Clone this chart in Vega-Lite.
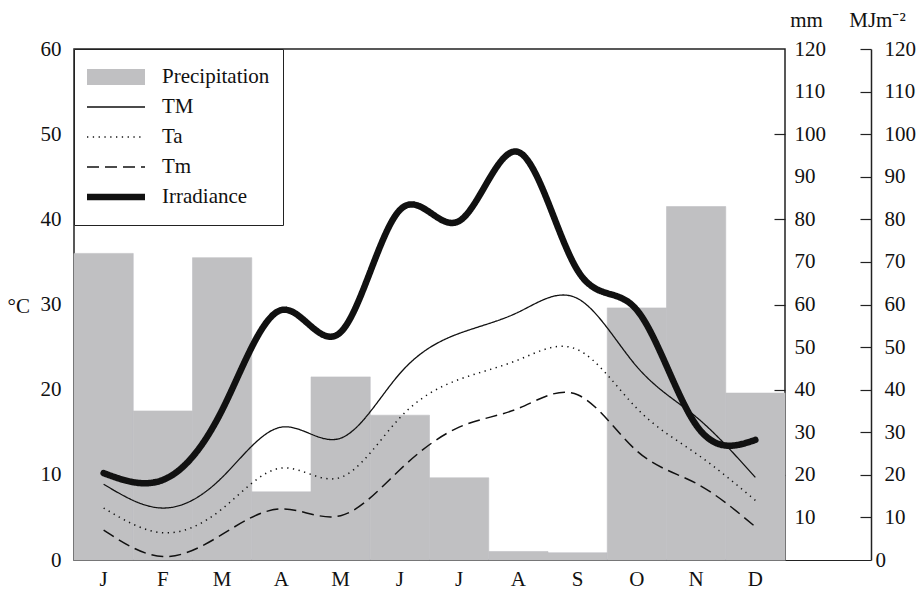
{
  "$schema": "https://vega.github.io/schema/vega-lite/v6.json",
  "width": 711,
  "height": 511,
  "autosize": "none",
  "padding": {"left": 74, "top": 49, "right": 133, "bottom": 29},
  "background": "white",
  "config": {
    "view": {"stroke": "#222", "strokeWidth": 1.5},
    "font": "Liberation Serif",
    "axis": {
      "labelFont": "Liberation Serif",
      "labelFontSize": 21,
      "labelColor": "#111",
      "titleFont": "Liberation Serif",
      "titleFontSize": 21,
      "titleFontWeight": "normal",
      "titleColor": "#111",
      "grid": false,
      "domainColor": "#222",
      "tickColor": "#222",
      "labelFlush": false,
      "labelOverlap": false
    },
    "legend": {
      "title": null,
      "orient": "top-left",
      "offset": 0,
      "symbolType": "stroke",
      "symbolSize": 3364,
      "labelFont": "Liberation Serif",
      "labelFontSize": 21,
      "labelColor": "#111",
      "strokeColor": "#222",
      "fillColor": "white",
      "padding": 13,
      "rowPadding": 0,
      "clipHeight": 30,
      "symbolOffset": -8,
      "labelOffset": 9,
      "labelExpr": "datum.label === 'Precipitation' ? 'Precipitation\u00a0\u00a0\u00a0\u00a0' : datum.label"
    }
  },
  "data": {
    "values": [
      {"month": "Jan", "series": "Precipitation", "value": 72},
      {"month": "Feb", "series": "Precipitation", "value": 35},
      {"month": "Mar", "series": "Precipitation", "value": 71},
      {"month": "Apr", "series": "Precipitation", "value": 16},
      {"month": "May", "series": "Precipitation", "value": 43},
      {"month": "Jun", "series": "Precipitation", "value": 34},
      {"month": "Jul", "series": "Precipitation", "value": 19.3},
      {"month": "Aug", "series": "Precipitation", "value": 2},
      {"month": "Sep", "series": "Precipitation", "value": 1.7},
      {"month": "Oct", "series": "Precipitation", "value": 59.2},
      {"month": "Nov", "series": "Precipitation", "value": 83},
      {"month": "Dec", "series": "Precipitation", "value": 39.2},

      {"month": "Jan", "series": "TM", "value": 8.9},
      {"month": "Feb", "series": "TM", "value": 6.1},
      {"month": "Mar", "series": "TM", "value": 9.7},
      {"month": "Apr", "series": "TM", "value": 15.6},
      {"month": "May", "series": "TM", "value": 14.3},
      {"month": "Jun", "series": "TM", "value": 21.9},
      {"month": "Jul", "series": "TM", "value": 26.6},
      {"month": "Aug", "series": "TM", "value": 29.1},
      {"month": "Sep", "series": "TM", "value": 30.7},
      {"month": "Oct", "series": "TM", "value": 22.7},
      {"month": "Nov", "series": "TM", "value": 16.8},
      {"month": "Dec", "series": "TM", "value": 9.7},

      {"month": "Jan", "series": "Ta", "value": 6.1},
      {"month": "Feb", "series": "Ta", "value": 3.2},
      {"month": "Mar", "series": "Ta", "value": 6.0},
      {"month": "Apr", "series": "Ta", "value": 10.8},
      {"month": "May", "series": "Ta", "value": 9.7},
      {"month": "Jun", "series": "Ta", "value": 16.7},
      {"month": "Jul", "series": "Ta", "value": 21.2},
      {"month": "Aug", "series": "Ta", "value": 23.5},
      {"month": "Sep", "series": "Ta", "value": 24.7},
      {"month": "Oct", "series": "Ta", "value": 17.8},
      {"month": "Nov", "series": "Ta", "value": 12.5},
      {"month": "Dec", "series": "Ta", "value": 7.0},

      {"month": "Jan", "series": "Tm", "value": 3.5},
      {"month": "Feb", "series": "Tm", "value": 0.4},
      {"month": "Mar", "series": "Tm", "value": 3.0},
      {"month": "Apr", "series": "Tm", "value": 6.0},
      {"month": "May", "series": "Tm", "value": 5.2},
      {"month": "Jun", "series": "Tm", "value": 10.6},
      {"month": "Jul", "series": "Tm", "value": 15.6},
      {"month": "Aug", "series": "Tm", "value": 17.8},
      {"month": "Sep", "series": "Tm", "value": 19.4},
      {"month": "Oct", "series": "Tm", "value": 12.8},
      {"month": "Nov", "series": "Tm", "value": 9.0},
      {"month": "Dec", "series": "Tm", "value": 3.9},

      {"month": "Jan", "series": "Irradiance", "value": 20.4},
      {"month": "Feb", "series": "Irradiance", "value": 18.8},
      {"month": "Mar", "series": "Irradiance", "value": 35.2},
      {"month": "Apr", "series": "Irradiance", "value": 58.7},
      {"month": "May", "series": "Irradiance", "value": 53.5},
      {"month": "Jun", "series": "Irradiance", "value": 82.2},
      {"month": "Jul", "series": "Irradiance", "value": 79.6},
      {"month": "Aug", "series": "Irradiance", "value": 95.8},
      {"month": "Sep", "series": "Irradiance", "value": 68},
      {"month": "Oct", "series": "Irradiance", "value": 58.7},
      {"month": "Nov", "series": "Irradiance", "value": 31.7},
      {"month": "Dec", "series": "Irradiance", "value": 28.2}
    ]
  },
  "encoding": {
    "x": {
      "field": "month",
      "type": "ordinal",
      "sort": ["Jan", "Feb", "Mar", "Apr", "May", "Jun", "Jul", "Aug", "Sep", "Oct", "Nov", "Dec"],
      "scale": {"paddingInner": 0, "paddingOuter": 0},
      "axis": {
        "title": null,
        "labelAngle": 0,
        "labelExpr": "substring(datum.label, 0, 1)",
        "ticks": false,
        "domain": false,
        "labelPadding": 8
      }
    }
  },
  "layer": [
    {
      "transform": [{"filter": "datum.series === 'Precipitation'"}],
      "mark": {"type": "bar", "stroke": "#c0c0c2", "strokeWidth": 0.6},
      "encoding": {
        "y": {
          "field": "value",
          "type": "quantitative",
          "scale": {"domain": [0, 120], "nice": false},
          "axis": {
            "orient": "right",
            "values": [10, 20, 30, 40, 50, 60, 70, 80, 90, 100, 110, 120],
            "title": "mm",
            "titleAngle": 0,
            "titleX": 21,
            "titleY": -29,
            "titleAlign": "center",
            "titleBaseline": "middle",
            "domain": false,
            "tickSize": -11,
            "tickWidth": 1.2,
            "tickOpacity": {"condition": {"test": "datum.value % 20 === 0 && datum.value < 120", "value": 1}, "value": 0},
            "labelPadding": 20
          }
        },
        "color": {
          "field": "series",
          "type": "nominal",
          "scale": {
            "domain": ["Precipitation", "TM", "Ta", "Tm", "Irradiance"],
            "range": ["#c0c0c2", "#111111", "#111111", "#111111", "#111111"]
          }
        }
      }
    },
    {
      "transform": [{"filter": "indexof(['TM', 'Ta', 'Tm'], datum.series) >= 0"}],
      "mark": {"type": "line", "interpolate": "natural"},
      "encoding": {
        "y": {
          "field": "value",
          "type": "quantitative",
          "scale": {"domain": [0, 60], "nice": false},
          "axis": {
            "orient": "left",
            "values": [0, 10, 20, 30, 40, 50, 60],
            "title": "°C",
            "titleAngle": 0,
            "titleX": -67,
            "titleY": 257,
            "titleAlign": "left",
            "titleBaseline": "middle",
            "domain": false,
            "ticks": false,
            "labelPadding": 13
          }
        },
        "color": {
          "field": "series",
          "type": "nominal",
          "scale": {
            "domain": ["Precipitation", "TM", "Ta", "Tm", "Irradiance"],
            "range": ["#c0c0c2", "#111111", "#111111", "#111111", "#111111"]
          }
        },
        "strokeDash": {
          "field": "series",
          "type": "nominal",
          "scale": {
            "domain": ["Precipitation", "TM", "Ta", "Tm", "Irradiance"],
            "range": [[1, 0], [1, 0], [1.3, 4.5], [12, 6], [1, 0]]
          }
        },
        "strokeWidth": {
          "field": "series",
          "type": "nominal",
          "scale": {
            "type": "ordinal",
            "domain": ["Precipitation", "TM", "Ta", "Tm", "Irradiance"],
            "range": [16, 1.3, 1.5, 1.5, 6.5]
          }
        }
      }
    },
    {
      "transform": [{"filter": "datum.series === 'Irradiance'"}],
      "mark": {"type": "line", "interpolate": "natural", "strokeCap": "round", "strokeJoin": "round"},
      "encoding": {
        "y": {
          "field": "value",
          "type": "quantitative",
          "scale": {"domain": [0, 120], "nice": false},
          "axis": {
            "orient": "right",
            "offset": 86,
            "values": [0, 10, 20, 30, 40, 50, 60, 70, 80, 90, 100, 110, 120],
            "title": "MJm⁻²",
            "titleAngle": 0,
            "titleX": 6,
            "titleY": -29,
            "titleAlign": "center",
            "titleBaseline": "middle",
            "domain": true,
            "domainWidth": 1.5,
            "tickWidth": 1.2,
            "tickSize": {"condition": {"test": "datum.value === 0", "value": -86}, "value": -11},
            "labelPadding": {"condition": {"test": "datum.value === 0", "value": 90}, "value": 24}
          }
        },
        "color": {
          "field": "series",
          "type": "nominal",
          "scale": {
            "domain": ["Precipitation", "TM", "Ta", "Tm", "Irradiance"],
            "range": ["#c0c0c2", "#111111", "#111111", "#111111", "#111111"]
          }
        },
        "strokeDash": {
          "field": "series",
          "type": "nominal",
          "scale": {
            "domain": ["Precipitation", "TM", "Ta", "Tm", "Irradiance"],
            "range": [[1, 0], [1, 0], [1.3, 4.5], [12, 6], [1, 0]]
          }
        },
        "strokeWidth": {
          "field": "series",
          "type": "nominal",
          "scale": {
            "type": "ordinal",
            "domain": ["Precipitation", "TM", "Ta", "Tm", "Irradiance"],
            "range": [16, 1.3, 1.5, 1.5, 6.5]
          }
        }
      }
    }
  ],
  "resolve": {"scale": {"y": "independent"}}
}
